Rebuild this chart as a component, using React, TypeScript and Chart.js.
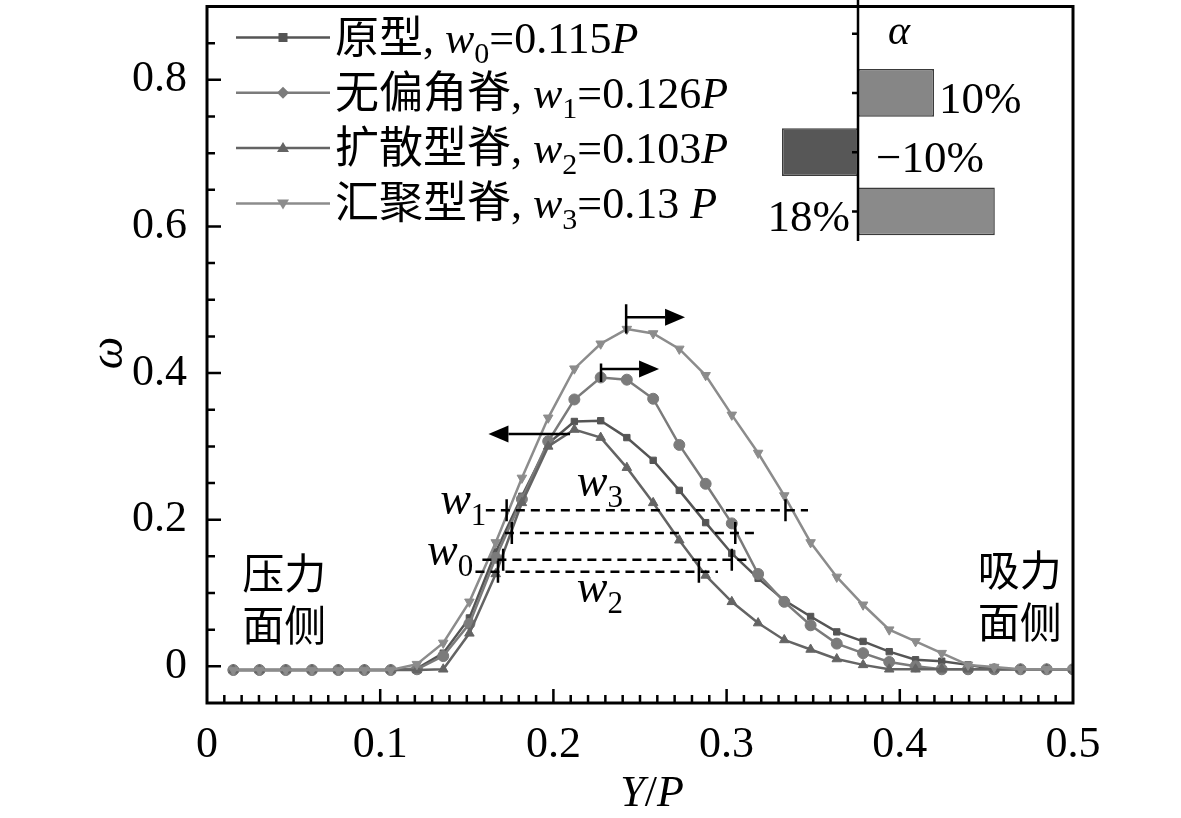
import { useEffect, useRef } from 'react';
import Chart from 'chart.js/auto';

// Y/P positions of the sampled points
const xValues = [
  0.0152, 0.0303, 0.0455, 0.0606, 0.0758, 0.0909, 0.1061, 0.1212, 0.1364, 0.1515, 0.1667,
  0.1818, 0.1970, 0.2121, 0.2273, 0.2424, 0.2576, 0.2727, 0.2879, 0.3030, 0.3182, 0.3333,
  0.3485, 0.3636, 0.3788, 0.3939, 0.4091, 0.4242, 0.4394, 0.4545, 0.4697, 0.4848, 0.5000,
];

// omega for each ridge type
const protoValues = [
  -0.005, -0.005, -0.005, -0.005, -0.005, -0.005, -0.005, -0.003, 0.018, 0.066, 0.156,
  0.232, 0.304, 0.334, 0.335, 0.312, 0.281, 0.240, 0.196, 0.154, 0.120, 0.090,
  0.068, 0.047, 0.034, 0.020, 0.009, 0.007, 0.002, -0.004, -0.004, -0.004, -0.004,
];
const noSkewValues = [
  -0.005, -0.005, -0.005, -0.005, -0.005, -0.005, -0.005, -0.004, 0.014, 0.058, 0.148,
  0.228, 0.307, 0.364, 0.394, 0.391, 0.365, 0.302, 0.249, 0.195, 0.126, 0.088,
  0.056, 0.031, 0.018, 0.006, 0.000, -0.004, -0.004, -0.004, -0.004, -0.004, -0.004,
];
const divergentValues = [
  -0.005, -0.005, -0.005, -0.005, -0.005, -0.005, -0.005, -0.005, -0.004, 0.045, 0.126,
  0.223, 0.300, 0.323, 0.312, 0.271, 0.223, 0.172, 0.124, 0.088, 0.059, 0.036,
  0.023, 0.010, 0.002, -0.004, -0.004, -0.004, -0.004, -0.004, -0.004, -0.004, -0.004,
];
const convergentValues = [
  -0.005, -0.005, -0.005, -0.005, -0.005, -0.005, -0.005, 0.003, 0.032, 0.088, 0.169,
  0.257, 0.339, 0.406, 0.440, 0.460, 0.454, 0.433, 0.397, 0.343, 0.291, 0.233,
  0.169, 0.122, 0.084, 0.050, 0.034, 0.018, 0.002, -0.001, -0.004, -0.004, -0.004,
];

const seriesNames = ['原型', '无偏角脊', '扩散型脊', '汇聚型脊'];
const widthSubs = ['0', '1', '2', '3'];
const widthTexts = ['0.115', '0.126', '0.103', '0.13 '];
const seriesColors = ['#555555', '#7b7b7b', '#646464', '#8c8c8c'];
const pointStyles = ['rect', 'circle', 'triangle', 'triangle'];
const pointRotations = [0, 0, 0, 180];
const legendMarkers = ['square', 'diamond', 'up', 'down'];

const xMajorTicks = [0, 0.1, 0.2, 0.3, 0.4, 0.5];
const yMajorTicks = [0, 0.2, 0.4, 0.6, 0.8];

// half-width guide lines (dashed) and their end marks
const widthLevels = [0.213, 0.182, 0.1455, 0.129];
const widthStarts = [0.161, 0.172, 0.159, 0.155];
const widthEnds = [0.347, 0.317, 0.314, 0.295];
const widthLeftMarks = [0.173, 0.176, 0.171, 0.168];
const widthRightMarks = [0.334, 0.305, 0.303, 0.284];

const widthLabelSubs = ['3', '2', '1', '0'];
const widthLabelX = [0.2135, 0.2135, 0.1346, 0.127];
const widthLabelY = [0.2326, 0.088, 0.2078, 0.1377];

// peak shift arrows
const arrowFrom = [0.242, 0.2275, 0.2096];
const arrowTo = [0.276, 0.261, 0.1625];
const arrowLevels = [0.476, 0.4055, 0.317];
const arrowMarkTop = [0.494, 0.413, NaN];
const arrowMarkBottom = [0.454, 0.388, NaN];

const sideLabelLines = [['压力', '面侧'], ['吸力', '面侧']];
const sideLabelX = [0.0204, 0.445];
const sideLabelY = [[0.120, 0.0497], [0.124, 0.054]];

// inset: change of alpha
const alphaCategories = ['原型', '无偏角脊', '扩散型脊', '汇聚型脊'];
const alphaValues = [0, 10, -10, 18];
const alphaLabels = ['α', '10%', '−10%', '18%'];
const alphaLabelAt = ['axisRight', 'barEnd', 'axisRight', 'axisLeft'];
const alphaColors = ['#8a8a8a', '#868686', '#575757', '#8a8a8a'];

const SERIF = "'Liberation Serif', 'Noto Sans CJK SC', serif";

type Seg = { t: string; it?: boolean; sub?: boolean };

function drawRich(ctx: CanvasRenderingContext2D, segs: Seg[], x: number, y: number, size: number, measureOnly = false) {
  let cx = x;
  for (const s of segs) {
    const fs = s.sub ? Math.round(size * 0.68) : size;
    ctx.font = `${s.it ? 'italic ' : ''}${fs}px ${SERIF}`;
    if (!measureOnly) ctx.fillText(s.t, cx, y + (s.sub ? size * 0.24 : 0));
    cx += ctx.measureText(s.t).width;
  }
  return cx - x;
}

function drawMarker(ctx: CanvasRenderingContext2D, kind: string, x: number, y: number) {
  ctx.beginPath();
  if (kind === 'square') ctx.rect(x - 4.5, y - 4.5, 9, 9);
  else if (kind === 'diamond') { ctx.moveTo(x, y - 6); ctx.lineTo(x + 6, y); ctx.lineTo(x, y + 6); ctx.lineTo(x - 6, y); }
  else if (kind === 'up') { ctx.moveTo(x, y - 6); ctx.lineTo(x + 6, y + 4); ctx.lineTo(x - 6, y + 4); }
  else { ctx.moveTo(x, y + 6); ctx.lineTo(x + 6, y - 4); ctx.lineTo(x - 6, y - 4); }
  ctx.closePath();
  ctx.fill();
}

const mainDecor = {
  id: 'mainDecor',
  afterDatasetsDraw(chart: any) {
    const { ctx, chartArea: a, scales } = chart;
    const px = (v: number) => scales.x.getPixelForValue(v);
    const py = (v: number) => scales.y.getPixelForValue(v);
    ctx.save();
    ctx.strokeStyle = '#000';
    ctx.fillStyle = '#000';

    // frame
    ctx.lineWidth = 3;
    ctx.strokeRect(a.left, a.top, a.right - a.left, a.bottom - a.top);

    // inward ticks
    ctx.lineWidth = 2.5;
    ctx.beginPath();
    for (let i = 1; i < 50; i++) {
      const x = px(i / 100);
      const len = i % 10 === 0 ? 14 : 8;
      ctx.moveTo(x, a.bottom);
      ctx.lineTo(x, a.bottom - len);
    }
    for (let i = 0; i < 18; i++) {
      const y = py(i * 0.05);
      const len = i % 4 === 0 ? 14 : 8;
      ctx.moveTo(a.left, y);
      ctx.lineTo(a.left + len, y);
    }
    ctx.stroke();

    // half-width dashed lines
    ctx.lineWidth = 2.5;
    ctx.setLineDash([9, 6]);
    ctx.beginPath();
    widthLevels.forEach((lv, i) => {
      ctx.moveTo(px(widthStarts[i]), py(lv));
      ctx.lineTo(px(widthEnds[i]), py(lv));
    });
    ctx.stroke();
    ctx.setLineDash([]);
    ctx.beginPath();
    widthLevels.forEach((lv, i) => {
      [widthLeftMarks[i], widthRightMarks[i]].forEach((m) => {
        ctx.moveTo(px(m), py(lv) - 11);
        ctx.lineTo(px(m), py(lv) + 11);
      });
    });
    ctx.stroke();

    // arrows
    arrowFrom.forEach((f, i) => {
      const x0 = px(f);
      const x1 = px(arrowTo[i]);
      const y = py(arrowLevels[i]);
      const dir = Math.sign(x1 - x0);
      const head = 20;
      ctx.lineWidth = 2.5;
      ctx.beginPath();
      ctx.moveTo(x0, y);
      ctx.lineTo(x1 - dir * head, y);
      if (!isNaN(arrowMarkTop[i])) {
        ctx.moveTo(x0, py(arrowMarkTop[i]));
        ctx.lineTo(x0, py(arrowMarkBottom[i]));
      }
      ctx.stroke();
      ctx.beginPath();
      ctx.moveTo(x1, y);
      ctx.lineTo(x1 - dir * head, y - 8.5);
      ctx.lineTo(x1 - dir * head, y + 8.5);
      ctx.closePath();
      ctx.fill();
    });

    // w labels
    ctx.textAlign = 'left';
    ctx.textBaseline = 'alphabetic';
    widthLabelSubs.forEach((s, i) => {
      drawRich(ctx, [{ t: 'w', it: true }, { t: s, sub: true }], px(widthLabelX[i]), py(widthLabelY[i]), 46);
    });

    // pressure / suction side labels
    ctx.textBaseline = 'middle';
    ctx.font = `42px ${SERIF}`;
    sideLabelLines.forEach((lines, i) => {
      lines.forEach((t, j) => ctx.fillText(t, px(sideLabelX[i]), py(sideLabelY[i][j])));
    });

    // legend
    ctx.textBaseline = 'alphabetic';
    seriesNames.forEach((name, i) => {
      const cy = a.top + 31 + i * 55.3;
      ctx.strokeStyle = seriesColors[i];
      ctx.fillStyle = seriesColors[i];
      ctx.lineWidth = 2.5;
      ctx.beginPath();
      ctx.moveTo(a.left + 29, cy);
      ctx.lineTo(a.left + 123, cy);
      ctx.stroke();
      drawMarker(ctx, legendMarkers[i], a.left + 76, cy);
      ctx.fillStyle = '#000';
      drawRich(ctx, [
        { t: name + ', ' },
        { t: 'w', it: true },
        { t: widthSubs[i], sub: true },
        { t: '=' + widthTexts[i] },
        { t: 'P', it: true },
      ], a.left + 128, cy + 15, 44);
    });

    // axis titles
    ctx.fillStyle = '#000';
    const titleSegs: Seg[] = [{ t: 'Y', it: true }, { t: '/' }, { t: 'P', it: true }];
    const tw = drawRich(ctx, titleSegs, 0, 0, 44, true);
    drawRich(ctx, titleSegs, (a.left + a.right) / 2 + 12 - tw / 2, 806, 44);

    ctx.translate(110, 353);
    ctx.rotate(-Math.PI / 2);
    ctx.textAlign = 'center';
    ctx.textBaseline = 'middle';
    ctx.font = `italic 46px ${SERIF}`;
    ctx.fillText('ω', 0, 0);
    ctx.restore();
  },
};

const insetDecor = {
  id: 'insetDecor',
  afterDatasetsDraw(chart: any) {
    const { ctx, chartArea: a, scales } = chart;
    const x0 = scales.x.getPixelForValue(0);
    ctx.save();
    ctx.strokeStyle = '#000';
    ctx.fillStyle = '#000';
    ctx.lineWidth = 2.5;
    ctx.beginPath();
    ctx.moveTo(x0, 0);
    ctx.lineTo(x0, a.bottom);
    alphaCategories.forEach((_, i) => {
      const y = scales.y.getPixelForValue(i);
      ctx.moveTo(x0 - 6, y);
      ctx.lineTo(x0, y);
    });
    ctx.stroke();

    ctx.textBaseline = 'alphabetic';
    alphaLabels.forEach((label, i) => {
      const y = scales.y.getPixelForValue(i);
      const at = alphaLabelAt[i];
      if (i === 0) {
        ctx.font = `italic 42px ${SERIF}`;
        ctx.textAlign = 'left';
        ctx.fillText(label, x0 + 30, y + 10);
        return;
      }
      ctx.font = `45px ${SERIF}`;
      if (at === 'barEnd') {
        ctx.textAlign = 'left';
        ctx.fillText(label, scales.x.getPixelForValue(alphaValues[i]) + 5, y + 20);
      } else if (at === 'axisRight') {
        ctx.textAlign = 'left';
        ctx.fillText(label, x0 + 18, y + 20);
      } else {
        ctx.textAlign = 'right';
        ctx.fillText(label, x0 - 8, y + 20);
      }
    });
    ctx.restore();
  },
};

export default function App() {
  const mainRef = useRef<HTMLCanvasElement | null>(null);
  const insetRef = useRef<HTMLCanvasElement | null>(null);

  useEffect(() => {
    if (!mainRef.current || !insetRef.current) return;
    const seriesValues = [protoValues, noSkewValues, divergentValues, convergentValues];
    const tickFont = { family: SERIF, size: 44 };
    const fmt = (v: any) => (Number(v) === 0 ? '0' : Number(v).toFixed(1));

    const main = new Chart(mainRef.current, {
      type: 'line',
      data: {
        datasets: seriesValues.map((vals, i) => ({
          label: seriesNames[i],
          data: vals.map((y, j) => ({ x: xValues[j], y })),
          borderColor: seriesColors[i],
          backgroundColor: seriesColors[i],
          borderWidth: 2.5,
          pointStyle: pointStyles[i] as any,
          pointRotation: pointRotations[i],
          pointRadius: i === 0 ? 4.5 : 5.5,
          pointBorderWidth: 1,
          pointBorderColor: seriesColors[i],
          pointBackgroundColor: seriesColors[i],
          tension: 0,
          order: 3 - i,
        })),
      },
      options: {
        animation: false,
        responsive: false,
        layout: { padding: { top: 2, right: 108, left: 0, bottom: 0 } },
        plugins: { legend: { display: false }, tooltip: { enabled: false } },
        scales: {
          x: {
            type: 'linear',
            min: 0,
            max: 0.5,
            grid: { display: false },
            border: { display: false },
            afterBuildTicks: (s: any) => { s.ticks = xMajorTicks.map((value) => ({ value })); },
            afterFit: (s: any) => { s.height = 115; s.paddingLeft = 0; s.paddingRight = 0; },
            ticks: { font: tickFont, color: '#000', padding: 8, maxRotation: 0, autoSkip: false, callback: fmt },
          },
          y: {
            type: 'linear',
            min: -0.05,
            max: 0.9,
            grid: { display: false },
            border: { display: false },
            afterBuildTicks: (s: any) => { s.ticks = yMajorTicks.map((value) => ({ value })); },
            afterFit: (s: any) => { s.width = 207; s.paddingTop = 0; s.paddingBottom = 0; },
            ticks: { font: tickFont, color: '#000', padding: 12, autoSkip: false, callback: fmt },
          },
        },
      },
      plugins: [mainDecor],
    });

    const inset = new Chart(insetRef.current, {
      type: 'bar',
      data: {
        labels: alphaCategories,
        datasets: [{
          data: alphaValues,
          backgroundColor: alphaColors,
          borderColor: '#3a3a3a',
          borderWidth: 1.5,
          borderSkipped: false,
          barPercentage: 0.9,
          categoryPercentage: 0.9,
        }],
      },
      options: {
        indexAxis: 'y',
        animation: false,
        responsive: false,
        layout: { padding: { left: 6, right: 14, top: 4, bottom: 9 } },
        plugins: { legend: { display: false }, tooltip: { enabled: false } },
        scales: {
          x: { display: false, min: -20, max: 30 },
          y: { display: false },
        },
      },
      plugins: [insetDecor],
    });

    return () => {
      main.destroy();
      inset.destroy();
    };
  }, []);

  return (
    <div style={{ position: 'fixed', left: 0, top: 0, width: 1181, height: 818, background: '#fff' }}>
      <canvas ref={mainRef} width={1181} height={818} style={{ position: 'absolute', left: 0, top: 0 }} />
      <canvas ref={insetRef} width={400} height={250} style={{ position: 'absolute', left: 700, top: 0 }} />
    </div>
  );
}
